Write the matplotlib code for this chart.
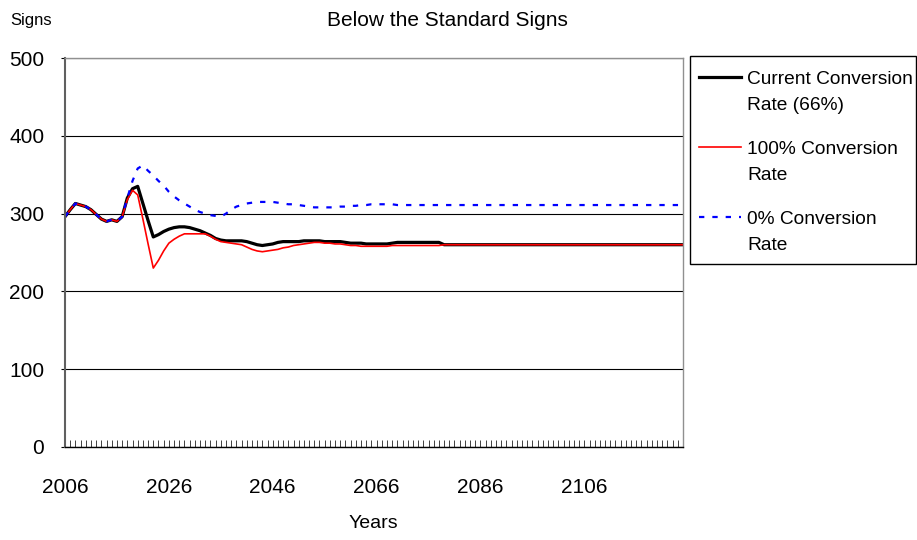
import numpy as np
import matplotlib.pyplot as plt
from matplotlib.lines import Line2D
from matplotlib.patches import Rectangle

plt.rcParams['font.family'] = ['Liberation Sans', 'DejaVu Sans']

years = np.arange(2006, 2126)

current_rate = [296, 305, 313, 311, 309, 305, 299, 293, 290, 292,
                290, 296, 320, 332, 335, 313, 291, 270, 273, 277,
                280, 282, 283, 283, 282, 280, 278, 275, 272, 268,
                266, 265, 265, 265, 265, 264, 262, 260, 259, 260,
                261, 263, 264, 264, 264, 264, 265, 265, 265, 265,
                264, 264, 264, 264, 263, 262, 262, 262, 261, 261,
                261, 261, 261, 262, 263, 263, 263, 263, 263, 263,
                263, 263, 263, 260, 260, 260, 260, 260, 260, 260,
                260, 260, 260, 260, 260, 260, 260, 260, 260, 260,
                260, 260, 260, 260, 260, 260, 260, 260, 260, 260,
                260, 260, 260, 260, 260, 260, 260, 260, 260, 260,
                260, 260, 260, 260, 260, 260, 260, 260, 260, 260]

full_rate = [296, 305, 313, 311, 309, 305, 299, 293, 290, 292,
             290, 296, 318, 330, 324, 293, 261, 230, 240, 252,
             262, 267, 271, 274, 274, 274, 274, 274, 271, 267,
             264, 263, 262, 261, 260, 257, 254, 252, 251, 252,
             253, 254, 256, 257, 259, 260, 261, 262, 263, 263,
             262, 262, 261, 261, 260, 259, 259, 258, 258, 258,
             258, 258, 258, 259, 259, 259, 259, 259, 259, 259,
             259, 259, 259, 260, 260, 260, 260, 260, 260, 260,
             260, 260, 260, 260, 260, 260, 260, 260, 260, 260,
             260, 260, 260, 260, 260, 260, 260, 260, 260, 260,
             260, 260, 260, 260, 260, 260, 260, 260, 260, 260,
             260, 260, 260, 260, 260, 260, 260, 260, 260, 260]

zero_rate = [296, 305, 313, 311, 309, 305, 299, 293, 290, 292,
             290, 296, 320, 342, 358, 362, 355, 349, 342, 336,
             328, 322, 317, 313, 309, 305, 302, 300, 298, 297,
             296, 300, 305, 309, 311, 313, 314, 315, 315, 315,
             315, 314, 313, 312, 312, 311, 310, 309, 308, 308,
             308, 308, 308, 309, 309, 310, 310, 311, 311, 312,
             312, 312, 312, 312, 311, 311, 311, 311, 311, 311,
             311, 311, 311, 311, 311, 311, 311, 311, 311, 311,
             311, 311, 311, 311, 311, 311, 311, 311, 311, 311,
             311, 311, 311, 311, 311, 311, 311, 311, 311, 311,
             311, 311, 311, 311, 311, 311, 311, 311, 311, 311,
             311, 311, 311, 311, 311, 311, 311, 311, 311, 311]

legend_lines = [['Current Conversion', 'Rate (66%)'],
                ['100% Conversion', 'Rate'],
                ['0% Conversion', 'Rate']]

W, H = 917, 540
fig = plt.figure(figsize=(W / 100, H / 100), dpi=100)
ax = fig.add_axes([65 / W, 1 - 447 / H, (683 - 65) / W, (447 - 58) / H])

ax.plot(years, current_rate, color='black', lw=2.3)
ax.plot(years, full_rate, color='#ff0000', lw=1.2)
ax.plot(years, zero_rate, color='#0000ff', lw=1.6, dashes=(2.4, 3.6))

ax.set_xlim(2006, 2125)
ax.set_ylim(0, 500)
ax.set_yticks([0, 100, 200, 300, 400, 500])
ax.set_xticks([2006, 2026, 2046, 2066, 2086, 2106])
ax.set_xticks(years, minor=True)
ax.yaxis.grid(True, color='black', lw=0.8)
ax.set_axisbelow(True)

ax.tick_params(axis='x', which='both', direction='in', length=5, width=0.7,
               color='#404040', pad=22, labelsize=15)
ax.tick_params(axis='y', direction='out', length=3, width=0.8, pad=12, labelsize=15)

for s in ['top', 'right']:
    ax.spines[s].set_color('#909090')
    ax.spines[s].set_linewidth(1)
ax.spines['left'].set_color('#606060')
ax.spines['left'].set_linewidth(1.5)
ax.spines['bottom'].set_color('black')
ax.spines['bottom'].set_linewidth(1)

fig.text(31 / W, 1 - 21 / H, 'Signs', ha='center', va='center', fontsize=12)
fig.text(447 / W, 1 - 21 / H, 'Below the Standard Signs', ha='center', va='center', fontsize=15)
fig.text(373 / W, 1 - 524 / H, 'Years', ha='center', va='center', fontsize=14)

# legend drawn by hand so the handle sits on the first text line
fig.add_artist(Rectangle((690 / W, 1 - 264 / H), (916 - 690) / W, (264 - 56) / H,
                         transform=fig.transFigure, fill=False, ec='black', lw=1))
styles = [dict(color='black', lw=2.3), dict(color='#ff0000', lw=1.2),
          dict(color='#0000ff', lw=1.6, dashes=(2.4, 3.6))]
line_y = [77, 147, 217]
for i in range(3):
    y = line_y[i]
    fig.add_artist(Line2D([699 / W, 741 / W], [1 - y / H, 1 - y / H],
                          transform=fig.transFigure, **styles[i]))
    fig.text(747 / W, 1 - (y + 3) / H, legend_lines[i][0], va='center', fontsize=13.8)
    fig.text(747 / W, 1 - (y + 28) / H, legend_lines[i][1], va='center', fontsize=13.8)

fig.savefig('out.png', dpi=100)
